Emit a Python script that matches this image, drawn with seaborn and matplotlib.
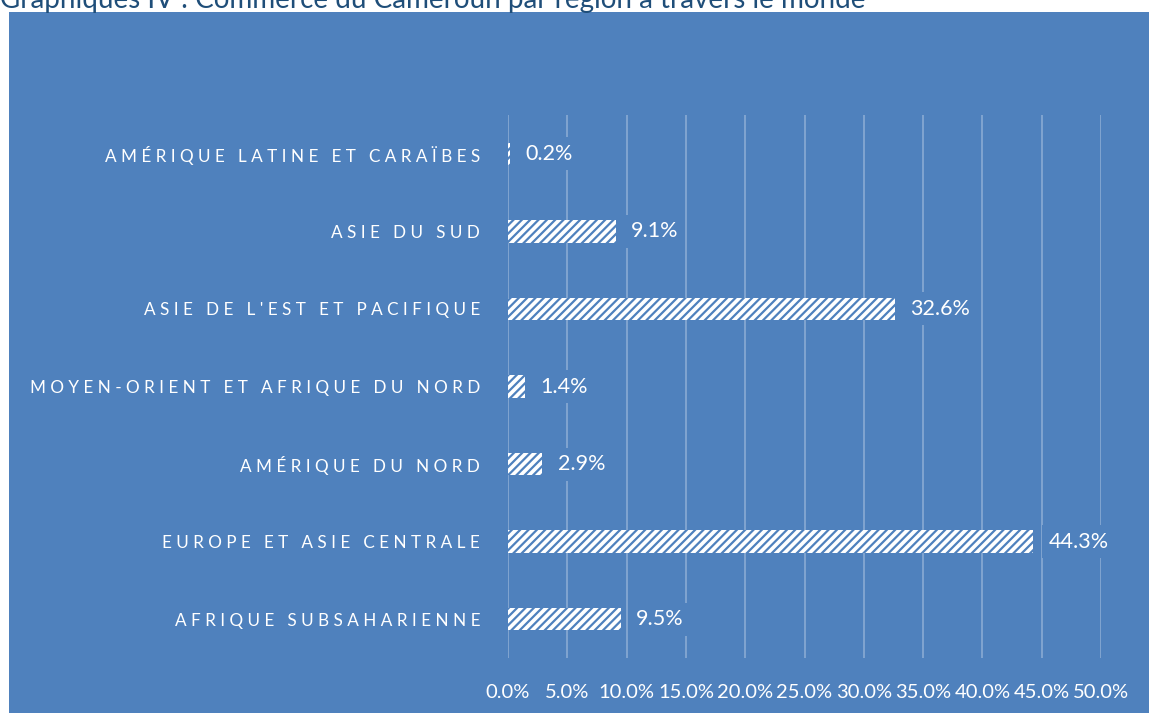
import numpy as np
import pandas as pd
import matplotlib.pyplot as plt
import matplotlib.patches as mpatches
import seaborn as sns

# données
regions = ["Amérique latine et Caraïbes", "Asie du Sud", "Asie de l'Est et Pacifique",
           "Moyen-Orient et Afrique du Nord", "Amérique du Nord",
           "Europe et Asie centrale", "Afrique subsaharienne"]
parts = [0.2, 9.1, 32.6, 1.4, 2.9, 44.3, 9.5]
x_ticks = [0, 5, 10, 15, 20, 25, 30, 35, 40, 45, 50]
titre = "Graphiques IV : Commerce du Cameroun par région à travers le monde"

bleu = "#4F81BD"
W, H = 1149, 713

sns.set_theme(style="white")
plt.rcParams['font.family'] = ['Lato', 'DejaVu Sans']
plt.rcParams['hatch.linewidth'] = 1.6
plt.rcParams['hatch.color'] = bleu

df = pd.DataFrame({"region": regions, "part": parts})

fig = plt.figure(figsize=(W / 100, H / 100), dpi=100, facecolor="white")
# fond bleu de la zone du graphique
fig.patches.append(mpatches.Rectangle((9 / W, 0), 1 - 9 / W, 1 - 12 / H,
                                      transform=fig.transFigure, facecolor=bleu,
                                      edgecolor="none", zorder=-5))
fig.text(0, 1 - 8 / H, titre, fontsize=20, color="#1F4E79", va="baseline", ha="left")

ax = fig.add_axes([508 / W, (H - 658) / H, (1101 - 508) / W, (658 - 115) / H])
ax.set_facecolor("none")
ax.set_zorder(2)

sns.barplot(data=df, y="region", x="part", orient="h", ax=ax, width=0.29,
            color="white", edgecolor=bleu, linewidth=0, zorder=3)
for p in ax.patches:
    p.set_hatch("////")
    p.set_edgecolor(bleu)
    p.set_linewidth(0)

for i, v in enumerate(parts):
    ax.annotate("{0:.1f}%".format(v), xy=(v, i), xytext=(11, 0), textcoords="offset points",
                va="center", ha="left", color="white", fontsize=15.5, zorder=4,
                bbox=dict(boxstyle="square,pad=0.3", facecolor=bleu, edgecolor="none"))

ax.set_xlim(0, 50)
ax.set_ylim(6.5, -0.5)
ax.set_xticks(x_ticks)
ax.set_xticklabels(["{0:.1f}%".format(t) for t in x_ticks], color="white", fontsize=14.5)
ax.set_yticks(range(len(regions)))
ax.set_yticklabels([" ".join(r.upper()) for r in regions], color="white", fontsize=12.3)
ax.tick_params(axis="x", length=0, pad=19)
ax.tick_params(axis="y", length=0, pad=20)
ax.grid(axis="x", color="white", alpha=0.3, linewidth=1.3, zorder=0)
ax.grid(axis="y", visible=False)
ax.set_xlabel("")
ax.set_ylabel("")
for s in ax.spines.values():
    s.set_visible(False)

plt.savefig("out.png", dpi=100, facecolor="white")
